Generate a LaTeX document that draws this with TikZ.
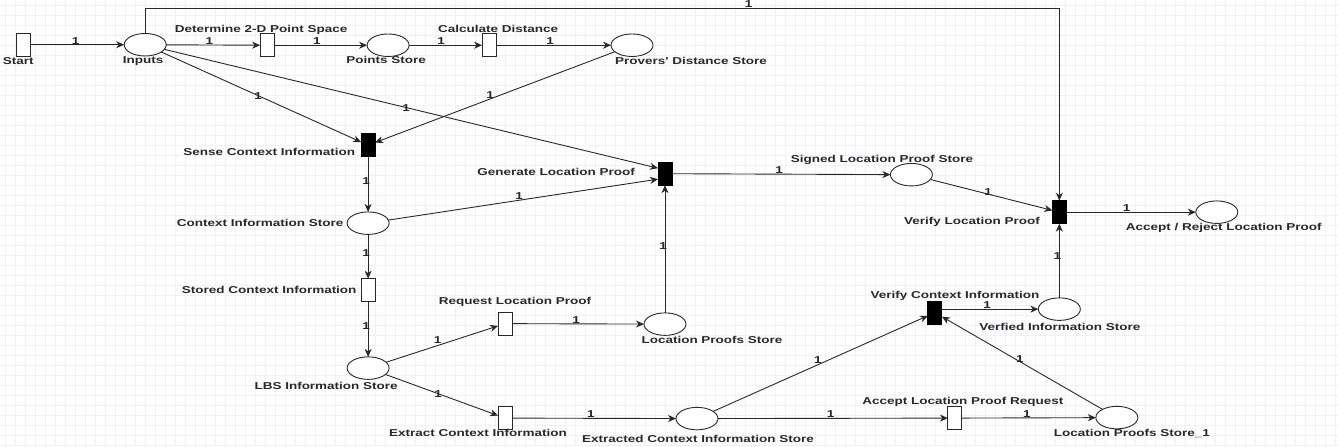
\documentclass[tikz,border=0pt]{standalone}
\usepackage{fontspec}
\newfontfamily\lblfont[FakeStretch=1.35]{Liberation Sans}
\usetikzlibrary{arrows.meta,calc,shapes.geometric}
\definecolor{gridc}{RGB}{240,240,253}
\definecolor{inkc}{RGB}{40,40,40}
\begin{document}
\begin{tikzpicture}[x=1pt,y=-1pt,
  every node/.style={inner sep=0pt, outer sep=0pt},
  place/.style={draw=inkc, line width=0.9pt, fill=white, ellipse, minimum width=42pt, minimum height=22.5pt},
  trans/.style={draw=inkc, line width=0.9pt, fill=white, rectangle, minimum width=14pt, minimum height=23pt},
  btrans/.style={trans, fill=black, draw=black},
  txt/.style={font=\lblfont\bfseries\fontsize{10}{12}\selectfont, text=inkc},
  wt/.style={txt, inner sep=0.6pt},
  vwt/.style={wt, xshift=-2pt},
  arc/.style={draw=inkc, line width=0.9pt, -{Stealth[length=8pt,width=7pt,inset=2.5pt]}}
]
\fill[white] (0,0) rectangle (1338,446);
\foreach \gx in {5,15,...,1335} \draw[gridc, line width=0.5pt] (\gx,0) -- (\gx,446);
\foreach \gy in {5,15,...,445} \draw[gridc, line width=0.5pt] (0,\gy) -- (1338,\gy);
\useasboundingbox (0,0) rectangle (1338,446);

% places
\node[place] (inputs) at (145,44.5) {};
\node[place] (points) at (388,45) {};
\node[place] (provers) at (632,45) {};
\node[place] (cis) at (368,223) {};
\node[place] (lbs) at (368,368) {};
\node[place] (lps) at (665,324) {};
\node[place] (ecis) at (697,418.5) {};
\node[place] (vis) at (1059.5,309) {};
\node[place] (lps1) at (1117,417.5) {};
\node[place] (slps) at (911.5,174.5) {};
\node[place] (ar) at (1217,212) {};

% transitions
\node[trans] (start) at (23.5,44.5) {};
\node[trans] (det) at (267,45) {};
\node[trans] (calc) at (489,45) {};
\node[btrans] (sense) at (368,145) {};
\node[btrans] (gen) at (665,173.5) {};
\node[trans] (stored) at (368,290) {};
\node[trans] (req) at (505,323.5) {};
\node[trans] (ext) at (505,418) {};
\node[btrans] (vci) at (935,312.5) {};
\node[trans] (accept) at (955,418) {};
\node[btrans] (vlp) at (1059.5,212) {};

% labels
\node[txt] (l-start) at (18,61) {Start};
\node[txt] (l-inputs) at (143,60.5) {Inputs};
\node[txt] (l-det) at (261,29.5) {Determine 2-D Point Space};
\node[txt] (l-points) at (386,60) {Points Store};
\node[txt] (l-calc) at (498,29) {Calculate Distance};
\node[txt] (l-provers) at (691,61) {Provers' Distance Store};
\node[txt] (l-sense) at (269,152) {Sense Context Information};
\node[txt] (l-gen) at (556,172) {Generate Location Proof};
\node[txt] (l-cis) at (260,223) {Context Information Store};
\node[txt] (l-stored) at (269,290) {Stored Context Information};
\node[txt] (l-lbs) at (326,386) {LBS Information Store};
\node[txt] (l-req) at (515,302) {Request Location Proof};
\node[txt] (l-lps) at (712,340) {Location Proofs Store};
\node[txt] (l-ext) at (478,433) {Extract Context Information};
\node[txt] (l-ecis) at (698,438.5) {Extracted Context Information Store};
\node[txt] (l-vci) at (955,296) {Verify Context Information};
\node[txt] (l-vis) at (1060,327) {Verfied Information Store};
\node[txt] (l-accept) at (963,402) {Accept Location Proof Request};
\node[txt] (l-lps1) at (1132,433) {Location Proofs Store\_1};
\node[txt] (l-slps) at (882,160) {Signed Location Proof Store};
\node[txt] (l-vlp) at (972,222) {Verify Location Proof};
\node[txt] (l-ar) at (1224,228) {Accept / Reject Location Proof};

% helper coordinates
\coordinate (tl) at (145,8);
\coordinate (tr) at (1059.5,8);
\coordinate (genup) at ($(gen.west)+(0,-5.5)$);
\coordinate (genlo) at ($(gen.west)+(0,5.5)$);
\coordinate (vcie) at (vci.east |- vis);

% arcs
\draw[arc] (start) -- node[wt,pos=0.48,above] {1} (inputs);
\draw[arc] (inputs) -- node[wt,pos=0.46,above] {1} (det);
\draw[arc] (det) -- node[wt,pos=0.46,above] {1} (points);
\draw[arc] (points) -- node[wt,pos=0.44,above] {1} (calc);
\draw[arc] (calc) -- node[wt,pos=0.47,above] {1} (provers);
\draw[arc] (inputs) -- node[wt,pos=0.485] {1} (sense);
\draw[arc] (provers) -- node[wt,pos=0.52,yshift=4pt] {1} (sense);
\draw[arc] (inputs) -- node[wt,pos=0.49] {1} (genup);
\draw[arc] (cis) -- node[wt,pos=0.485,yshift=4pt] {1} (genlo);
\draw[arc] (sense) -- node[vwt,pos=0.44] {1} (cis);
\draw[arc] (cis) -- node[vwt,pos=0.42] {1} (stored);
\draw[arc] (stored) -- node[vwt,pos=0.45] {1} (lbs);
\draw[arc] (lbs) -- node[wt,pos=0.46,yshift=5.5pt] {1} (req);
\draw[arc] (lbs) -- node[wt,pos=0.467] {1} (ext);
\draw[arc] (req) -- node[wt,pos=0.485,above] {1} (lps);
\draw[arc] (lps) -- node[vwt,pos=0.52] {1} (gen);
\draw[arc] (ext) -- node[wt,pos=0.48,above] {1} (ecis);
\draw[arc] (ecis) -- node[wt,pos=0.488,yshift=5pt] {1} (vci);
\draw[arc] (vcie) -- node[wt,pos=0.47,above] {1} (vis);
\draw[arc] (lps1) -- node[wt,pos=0.515,yshift=2.5pt] {1} (vci);
\draw[arc] (ecis) -- node[wt,pos=0.49,above] {1} (accept);
\draw[arc] (accept) -- node[wt,pos=0.485,above] {1} (lps1);
\draw[arc] (vis) -- node[vwt,pos=0.56] {1} (vlp);
\draw[arc] (gen) -- node[wt,pos=0.49,above] {1} (slps);
\draw[arc] (slps) -- node[wt,pos=0.473,yshift=2pt] {1} (vlp);
\draw[arc] (vlp) -- node[wt,pos=0.465,above] {1} (ar);
\draw[arc] (inputs.north) -- (tl) -- node[wt,pos=0.66,above] {1} (tr) -- (vlp.north);
\end{tikzpicture}
\end{document}
